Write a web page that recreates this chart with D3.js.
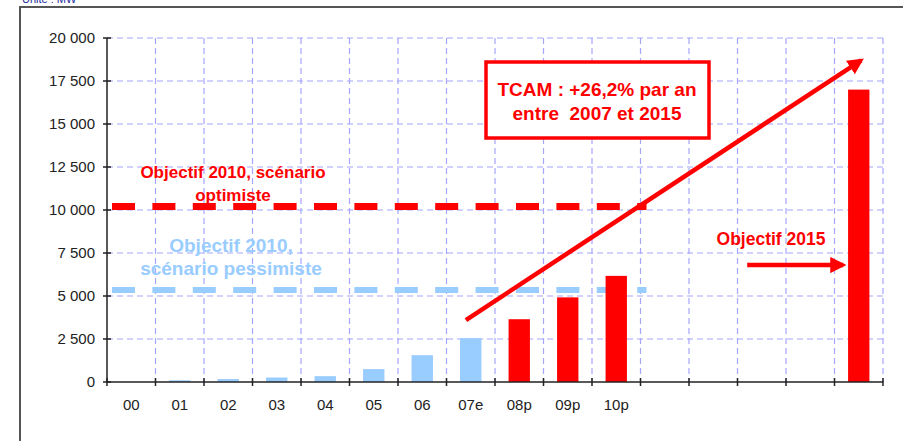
<!DOCTYPE html>
<meta charset="utf-8">
<script src="https://d3js.org/d3.v7.js"></script>
<style>
  body { margin: 0; background: #fff; }
  text { font-family: "Liberation Sans", Arial, sans-serif; }
</style>
<div id="chart"></div>
<script>
    // data
    const categories = ["00", "01", "02", "03", "04", "05", "06", "07e", "08p", "09p", "10p", "11", "12", "13", "14", "15"];
    const tickLabels = ["00", "01", "02", "03", "04", "05", "06", "07e", "08p", "09p", "10p", "", "", "", "", ""];
    const values = [0, 100, 170, 260, 340, 750, 1560, 2550, 3650, 4920, 6170, null, null, null, null, 17000];
    const kinds = ["hist", "hist", "hist", "hist", "hist", "hist", "hist", "hist", "proj", "proj", "proj", null, null, null, null, "proj"];
    const yTicks = [0, 2500, 5000, 7500, 10000, 12500, 15000, 17500, 20000];
    const objOptimiste = 10200;
    const objPessimiste = 5350;

    const width = 903, height = 441;
    const margin = {top: 38, right: 20, bottom: 59, left: 107};

    const svg = d3.select("#chart").append("svg")
        .attr("width", width)
        .attr("height", height);

    // outer frame (left + top only visible)
    svg.append("path")
        .attr("d", "M20,441 L20,7 L903,7")
        .attr("fill", "none")
        .attr("stroke", "#555")
        .attr("stroke-width", 2);

    svg.append("text")
        .attr("x", 22).attr("y", 3)
        .attr("font-size", 11)
        .attr("fill", "#1a2a9a")
        .text("Unité : MW");

    const x = d3.scaleBand()
        .domain(categories)
        .range([margin.left, width - margin.right])
        .paddingInner(0.56)
        .paddingOuter(0.28);

    const y = d3.scaleLinear()
        .domain([0, 20000])
        .range([height - margin.bottom, margin.top]);

    const step = x.step();
    const x0 = x.range()[0];
    const grid = svg.append("g")
        .attr("stroke", "#a6a6ff")
        .attr("stroke-width", 1.2)
        .attr("stroke-dasharray", "6,4");

    // horizontal grid
    grid.selectAll("line.h")
        .data(yTicks.filter(d => d > 0))
        .join("line")
        .attr("x1", x0).attr("x2", x.range()[1])
        .attr("y1", d => y(d)).attr("y2", d => y(d));

    // vertical grid at band boundaries
    grid.selectAll("line.v")
        .data(d3.range(1, categories.length + 1))
        .join("line")
        .attr("x1", i => x0 + i * step).attr("x2", i => x0 + i * step)
        .attr("y1", y(20000)).attr("y2", y(0));

    // reference lines
    const refX1 = x0 + 5, refX2 = x("10p") - x.paddingInner() * step / 2 + step + 6;
    svg.append("line")
        .attr("x1", refX1).attr("x2", refX2)
        .attr("y1", y(objOptimiste)).attr("y2", y(objOptimiste))
        .attr("stroke", "#ff0000").attr("stroke-width", 7)
        .attr("stroke-dasharray", "23,17.4");
    svg.append("line")
        .attr("x1", refX1).attr("x2", refX2)
        .attr("y1", y(objPessimiste)).attr("y2", y(objPessimiste))
        .attr("stroke", "#99ccff").attr("stroke-width", 6)
        .attr("stroke-dasharray", "23,17.4");

    // bars
    const barData = categories.map((c, i) => ({c, v: values[i], k: kinds[i]}))
        .filter(d => d.v != null && d.v > 0);
    svg.selectAll("rect.bar")
        .data(barData)
        .join("rect")
        .attr("x", d => x(d.c))
        .attr("y", d => y(d.v))
        .attr("width", x.bandwidth())
        .attr("height", d => y(0) - y(d.v))
        .attr("fill", d => d.k === "hist" ? "#99ccff" : "#ff0000");

    // y axis
    const yAxis = svg.append("g");
    yAxis.append("line")
        .attr("x1", x0).attr("x2", x0)
        .attr("y1", y(20000)).attr("y2", y(0))
        .attr("stroke", "#222").attr("stroke-width", 1.5);
    yAxis.selectAll("line.t")
        .data(yTicks)
        .join("line")
        .attr("x1", x0 - 4).attr("x2", x0 + 4)
        .attr("y1", d => y(d)).attr("y2", d => y(d))
        .attr("stroke", "#222").attr("stroke-width", 1.5);
    yAxis.selectAll("text")
        .data(yTicks)
        .join("text")
        .attr("x", 95).attr("y", d => y(d))
        .attr("dy", "0.36em")
        .attr("text-anchor", "end")
        .attr("font-size", 15)
        .attr("fill", "#222")
        .text(d => d3.format(",")(d).replace(/,/g, " "));

    // x axis
    const xAxis = svg.append("g");
    xAxis.append("line")
        .attr("x1", x0).attr("x2", x.range()[1])
        .attr("y1", y(0)).attr("y2", y(0))
        .attr("stroke", "#222").attr("stroke-width", 1.5);
    xAxis.selectAll("line.t")
        .data(d3.range(0, categories.length + 1))
        .join("line")
        .attr("x1", i => x0 + i * step).attr("x2", i => x0 + i * step)
        .attr("y1", y(0) - 4).attr("y2", y(0) + 4)
        .attr("stroke", "#222").attr("stroke-width", 1.5);
    xAxis.selectAll("text")
        .data(categories)
        .join("text")
        .attr("x", d => x(d) + x.bandwidth() / 2)
        .attr("y", y(0) + 28)
        .attr("text-anchor", "middle")
        .attr("font-size", 15)
        .attr("fill", "#222")
        .text((d, i) => tickLabels[i]);

    // annotations
    const red = "#ff0000";
    const defs = svg.append("defs");
    defs.append("marker")
        .attr("id", "head")
        .attr("viewBox", "0 0 10 10")
        .attr("refX", 8).attr("refY", 5)
        .attr("markerWidth", 3.6).attr("markerHeight", 3.6)
        .attr("orient", "auto")
        .append("path")
        .attr("d", "M0,0 L10,5 L0,10 Z")
        .attr("fill", red);

    const cx = (c, f) => x(c) - x.paddingInner() * step / 2 + f * step;

    svg.append("line")
        .attr("x1", cx("07e", 0.4)).attr("y1", y(3600))
        .attr("x2", cx("15", 0.55)).attr("y2", y(18700))
        .attr("stroke", red).attr("stroke-width", 4.5)
        .attr("marker-end", "url(#head)");

    svg.append("line")
        .attr("x1", cx("13", 0.2)).attr("y1", y(6800))
        .attr("x2", cx("15", 0.18)).attr("y2", y(6800))
        .attr("stroke", red).attr("stroke-width", 4.5)
        .attr("marker-end", "url(#head)");

    svg.append("rect")
        .attr("x", 486).attr("y", 62)
        .attr("width", 223).attr("height", 76)
        .attr("fill", "#fff")
        .attr("stroke", red).attr("stroke-width", 3.5);

    const note = (lines, xx, yy, size, lh, color) => {
        const t = svg.append("text")
            .attr("x", xx).attr("y", yy)
            .attr("text-anchor", "middle")
            .attr("font-size", size)
            .attr("font-weight", "bold")
            .attr("fill", color);
        lines.forEach((l, i) => t.append("tspan")
            .attr("x", xx).attr("dy", i === 0 ? 0 : lh)
            .attr("xml:space", "preserve")
            .text(l));
    };
    note(["TCAM : +26,2% par an", "entre  2007 et 2015"], 597, 96, 19, 24, red);
    note(["Objectif 2010, scénario", "optimiste"], 233, 177.5, 17, 23, red);
    note(["Objectif 2010,", "scénario pessimiste"], 231, 251.5, 19, 23, "#99ccff");
    note(["Objectif 2015"], 771, 245, 17.5, 0, red);
</script>
